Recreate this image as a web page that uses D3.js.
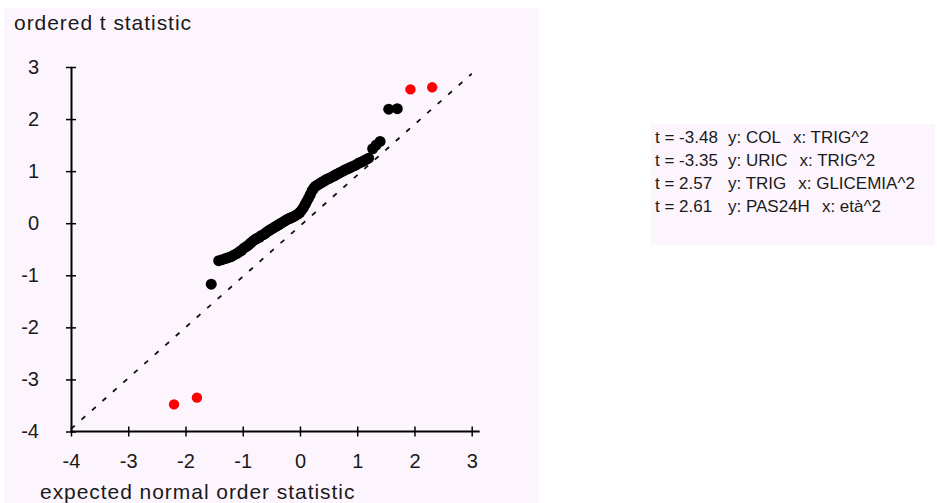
<!DOCTYPE html>
<html>
<head>
<meta charset="utf-8">
<script src="https://cdn.jsdelivr.net/npm/d3@7"></script>
<style>
  body { margin: 0; background: #fff; }
  svg text { font-family: "Liberation Sans", Arial, sans-serif; fill: #1a1a1a; }
</style>
</head>
<body>
<svg id="chart" width="937" height="503"></svg>
<script>
// expected normal order statistic (x) and ordered t statistic (y)
var blackX = [-1.55, -1.42, -1.36, -1.30, -1.25, -1.20, -1.15, -1.10, -1.06, -1.02, -0.98, -0.94, -0.90, -0.86, -0.82, -0.78,
  -0.75, -0.71, -0.68, -0.64, -0.61, -0.58, -0.54, -0.51, -0.48, -0.45, -0.42, -0.39, -0.36, -0.33, -0.30, -0.27,
  -0.24, -0.21, -0.18, -0.15, -0.12, -0.09, -0.06, -0.03, 0.00, 0.03, 0.06, 0.09, 0.12, 0.15, 0.18, 0.21,
  0.24, 0.27, 0.30, 0.33, 0.36, 0.39, 0.42, 0.45, 0.48, 0.51, 0.54, 0.58, 0.61, 0.64, 0.68, 0.71,
  0.75, 0.78, 0.82, 0.86, 0.90, 0.94, 0.98, 1.02, 1.06, 1.10, 1.15, 1.20, 1.27, 1.33, 1.40, 1.55, 1.70];
var blackY = [-1.17, -0.72, -0.70, -0.68, -0.66, -0.64, -0.61, -0.58, -0.55, -0.52, -0.48, -0.45, -0.42, -0.38, -0.34, -0.31,
  -0.29, -0.27, -0.24, -0.22, -0.20, -0.17, -0.14, -0.12, -0.10, -0.08, -0.06, -0.04, -0.02, 0.00, 0.02, 0.04,
  0.06, 0.08, 0.09, 0.11, 0.12, 0.14, 0.16, 0.18, 0.21, 0.25, 0.30, 0.36, 0.42, 0.48, 0.55, 0.62,
  0.67, 0.71, 0.73, 0.75, 0.77, 0.79, 0.81, 0.83, 0.85, 0.86, 0.88, 0.90, 0.92, 0.94, 0.96, 0.98,
  1.00, 1.02, 1.04, 1.06, 1.08, 1.10, 1.12, 1.15, 1.17, 1.19, 1.22, 1.25, 1.43, 1.50, 1.57, 2.19, 2.20];

// highlighted (significant) statistics
var redX = [-2.20, -1.80, 1.93, 2.31];
var redY = [-3.48, -3.35, 2.57, 2.61];

var legendT = ['t = -3.48', 't = -3.35', 't = 2.57', 't = 2.61'];
var legendYVar = ['y: COL', 'y: URIC', 'y: TRIG', 'y: PAS24H'];
var legendXVar = ['x: TRIG^2', 'x: TRIG^2', 'x: GLICEMIA^2', 'x: età^2'];

var xTicks = [-4, -3, -2, -1, 0, 1, 2, 3];
var yTicks = [-4, -3, -2, -1, 0, 1, 2, 3];
var refLine = [[-4, -3.95], [3, 2.87]];

var svg = d3.select('#chart');

// panel backgrounds
svg.append('rect').attr('x', 4).attr('y', 8).attr('width', 535).attr('height', 495).attr('fill', '#fdf5fd');
svg.append('rect').attr('x', 651).attr('y', 124).attr('width', 284).attr('height', 121).attr('fill', '#fdf5fd');

var x = d3.scaleLinear().domain([-4, 3]).range([71, 471.7]);
var y = d3.scaleLinear().domain([-4, 3]).range([431.5, 67]);
var fmt = function(d) { return String(d); };

// axes
var gx = svg.append('g')
    .attr('transform', 'translate(0,' + y(-4) + ')')
    .call(d3.axisBottom(x).tickValues(xTicks).tickFormat(fmt).tickSize(5).tickPadding(14).tickSizeOuter(0));
gx.select('.domain').attr('d', 'M' + x(-4) + ',0H' + (x(3) + 8)).attr('stroke-width', 2);
gx.selectAll('.tick line').attr('y1', -5).attr('y2', 5).attr('stroke-width', 1.5);
gx.selectAll('.tick text').attr('font-size', 20).attr('dy', '0.85em');

var gy = svg.append('g')
    .attr('transform', 'translate(' + x(-4) + ',0)')
    .call(d3.axisLeft(y).tickValues(yTicks).tickFormat(fmt).tickSize(5).tickPadding(27).tickSizeOuter(0));
gy.select('.domain').attr('stroke-width', 2);
gy.selectAll('.tick line').attr('x1', -5).attr('x2', 5).attr('stroke-width', 1.5);
gy.selectAll('.tick text').attr('font-size', 20);
svg.selectAll('.tick text').attr('fill', '#1a1a1a').attr('font-family', '"Liberation Sans", Arial, sans-serif');

// axis titles
svg.append('text').attr('x', 14).attr('y', 30).attr('font-size', 21).attr('letter-spacing', 0.95).text('ordered t statistic');
svg.append('text').attr('x', 40).attr('y', 499).attr('font-size', 21).attr('letter-spacing', 0.95).text('expected normal order statistic');

// reference line
svg.append('path')
    .attr('d', d3.line().x(function(d) { return x(d[0]); }).y(function(d) { return y(d[1]); })(refLine))
    .attr('stroke', '#111').attr('stroke-width', 1.8).attr('stroke-dasharray', '5,9').attr('fill', 'none');

// points
svg.append('g').selectAll('circle')
    .data(d3.range(blackX.length))
    .enter().append('circle')
    .attr('cx', function(i) { return x(blackX[i]); })
    .attr('cy', function(i) { return y(blackY[i]); })
    .attr('r', 5.5)
    .attr('fill', '#000');

svg.append('g').selectAll('circle')
    .data(d3.range(redX.length))
    .enter().append('circle')
    .attr('cx', function(i) { return x(redX[i]); })
    .attr('cy', function(i) { return y(redY[i]); })
    .attr('r', 5.2)
    .attr('fill', '#ff0000');

// legend
var lg = svg.append('g').attr('font-size', 17);
legendT.forEach(function(t, i) {
    var by = 143 + i * 23;
    lg.append('text').attr('x', 655).attr('y', by).text(t);
    var yt = lg.append('text').attr('x', 728).attr('y', by).text(legendYVar[i]);
    var w = yt.node().getComputedTextLength();
    lg.append('text').attr('x', 728 + w + 12).attr('y', by).text(legendXVar[i]);
});
</script>
</body>
</html>
